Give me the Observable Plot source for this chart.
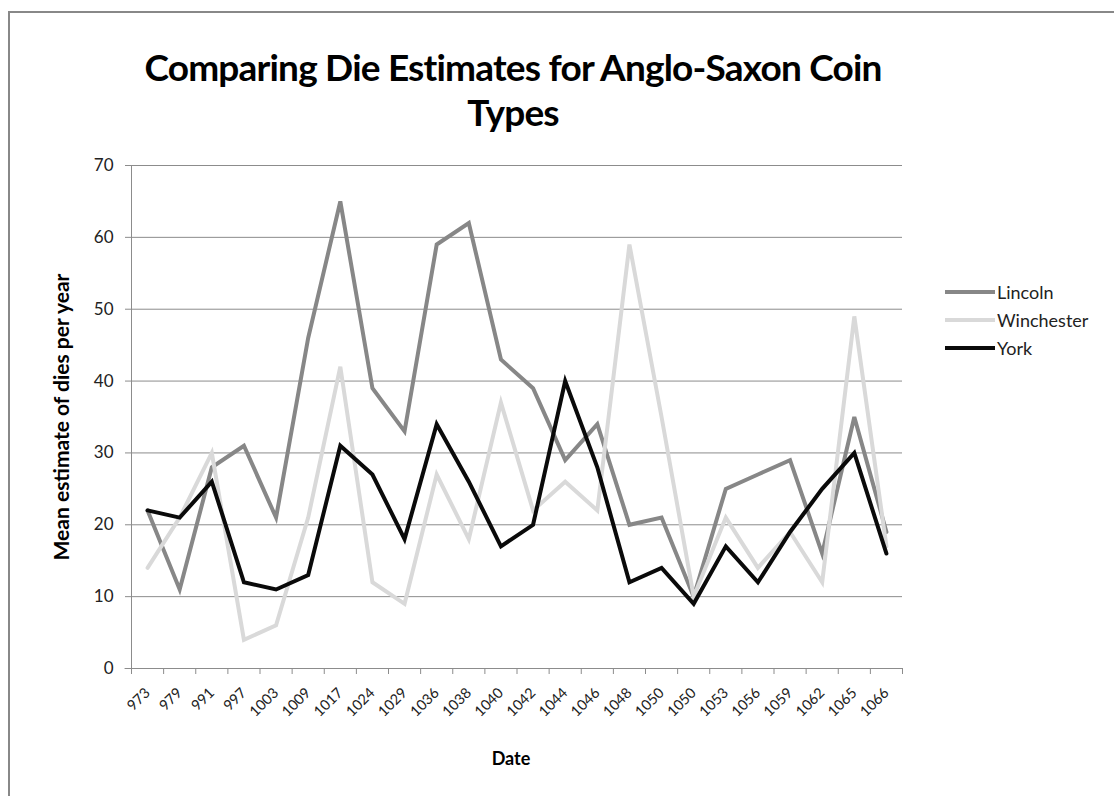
<!DOCTYPE html>
<html>
<head>
<meta charset="utf-8">
<script src="https://cdn.jsdelivr.net/npm/d3@7"></script>
<script src="https://cdn.jsdelivr.net/npm/@observablehq/plot@0.6"></script>
<style>
  html, body { margin: 0; padding: 0; background: #fff; overflow: hidden; }
  #frame { position: absolute; left: 8px; top: 11px; width: 1120px; height: 800px; border-left: 2px solid #888; border-top: 2px solid #888; }
  #title { position: absolute; left: 0; top: 44px; width: 1026px; text-align: center; font-family: Lato, "Open Sans", sans-serif; font-weight: bold; font-size: 37px; letter-spacing: -0.8px; line-height: 45px; color: #000; }
  #chart { position: absolute; left: 0; top: 0; }
  #legend { position: absolute; left: 945px; top: 278px; font-family: Lato, "Open Sans", sans-serif; font-size: 18px; color: #222; }
  .li { display: flex; align-items: center; height: 28px; }
  .sw { width: 50px; height: 4px; margin-right: 2px; }
</style>
</head>
<body>
<div id="frame"></div>
<div id="title">Comparing Die Estimates for Anglo-Saxon Coin<br>Types</div>
<div id="chart"></div>
<div id="legend"></div>
<script>
const dates = ["973","979","991","997","1003","1009","1017","1024","1029","1036","1038","1040","1042","1044","1046","1048","1050","1050","1053","1056","1059","1062","1065","1066"];
const lincoln    = [22, 11, 28, 31, 21, 46, 65, 39, 33, 59, 62, 43, 39, 29, 34, 20, 21, 10, 25, 27, 29, 16, 35, 19];
const winchester = [14, 21, 30,  4,  6, 21, 42, 12,  9, 27, 18, 37, 22, 26, 22, 59, 35, 10, 21, 14, 19, 12, 49, 17];
const york       = [22, 21, 26, 12, 11, 13, 31, 27, 18, 34, 26, 17, 20, 40, 28, 12, 14,  9, 17, 12, 19, 25, 30, 16];
const seriesNames = ["Lincoln", "Winchester", "York"];
const seriesColors = ["#878787", "#d9d9d9", "#0a0a0a"];
const yTicks = [0, 10, 20, 30, 40, 50, 60, 70];

const rows = [];
[lincoln, winchester, york].forEach((vals, s) => {
  vals.forEach((v, i) => rows.push({series: seriesNames[s], i, value: v}));
});
const idx = d3.range(dates.length);
const bounds = d3.range(dates.length + 1).map(b => b - 0.5);

const chart = Plot.plot({
  width: 1114,
  height: 796,
  marginLeft: 131,
  marginRight: 212,
  marginTop: 165,
  marginBottom: 128,
  style: {fontFamily: "Lato, 'Open Sans', sans-serif", background: "transparent"},
  x: {type: "linear", domain: [-0.5, dates.length - 0.5], axis: null, label: null},
  y: {domain: [0, 70], axis: null, label: null},
  color: {domain: seriesNames, range: seriesColors},
  marks: [
    Plot.gridY(yTicks, {stroke: "#8c8c8c", strokeOpacity: 1, strokeWidth: 1}),
    Plot.ruleX([-0.5], {stroke: "#8c8c8c"}),
    Plot.axisY({ticks: yTicks, tickSize: 6, tickPadding: 12, stroke: "#8c8c8c", fontSize: 17, fill: "#222", label: null}),
    Plot.axisX({ticks: bounds, tickSize: 6, tickFormat: () => "", stroke: "#8c8c8c", label: null}),
    Plot.axisX({ticks: idx, tickSize: 0, tickPadding: 22, tickRotate: -45, tickFormat: i => dates[i], fontSize: 14.5, fill: "#222", label: null}),
    Plot.ruleY([0], {stroke: "#8c8c8c", x1: -0.7, x2: dates.length - 0.5}),
    Plot.lineY(rows, {x: "i", y: "value", stroke: "series", z: "series", strokeWidth: 4, strokeLinejoin: "miter", strokeMiterlimit: 4}),
    Plot.text(["Mean estimate of dies per year"], {frameAnchor: "left", textAnchor: "middle", dx: -69, rotate: -90, fontWeight: "bold", fontSize: 21, fill: "#000"}),
    Plot.text(["Date"], {frameAnchor: "bottom", dy: 96, dx: -6, fontWeight: "bold", fontSize: 18, fill: "#000"})
  ]
});
document.getElementById("chart").appendChild(chart);

const legend = document.getElementById("legend");
seriesNames.forEach((n, k) => {
  const d = document.createElement("div");
  d.className = "li";
  d.innerHTML = `<div class="sw" style="background:${seriesColors[k]}"></div><span>${n}</span>`;
  legend.appendChild(d);
});
</script>
</body>
</html>
